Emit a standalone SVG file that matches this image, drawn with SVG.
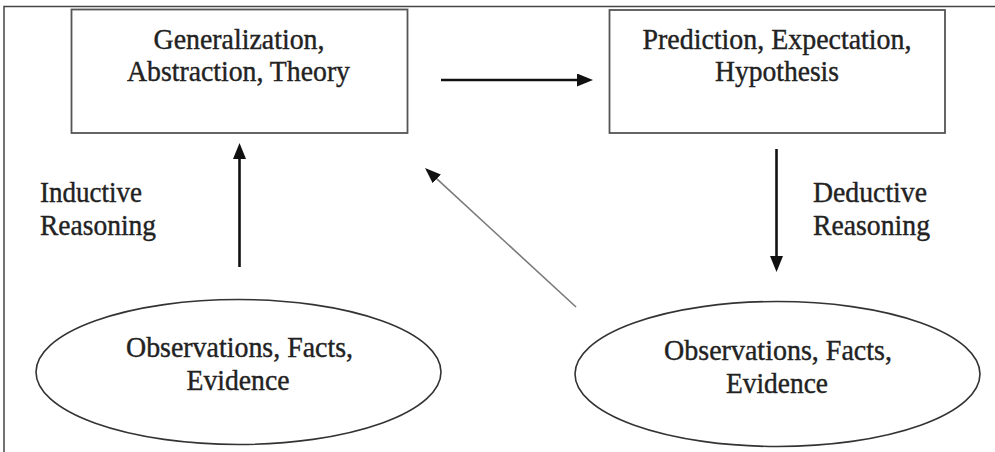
<svg xmlns="http://www.w3.org/2000/svg" width="995" height="452" viewBox="0 0 995 452">
<style>
.bg{fill:#ffffff}
.frame{fill:none;stroke:#444;stroke-width:1.5}
.box{fill:#ffffff;stroke:#555;stroke-width:1.8}
.ell{fill:#ffffff;stroke:#333;stroke-width:1.6}
text{font-family:"Liberation Serif","Times New Roman",serif;font-size:30px;fill:#222;stroke:#222;stroke-width:0.4}
.arr{fill:none;stroke:#111;stroke-width:2.6}
.thin{fill:none;stroke:#7a7a7a;stroke-width:1.6}
</style>
<defs>
<marker id="ah" markerUnits="userSpaceOnUse" markerWidth="17" markerHeight="14" refX="8" refY="6.5" orient="auto">
<path d="M0,0 L16,6.5 L0,13 z" fill="#111"/>
</marker>
<marker id="ah2" markerUnits="userSpaceOnUse" markerWidth="17" markerHeight="14" refX="8" refY="6.5" orient="auto">
<path d="M0,0.5 L16,6.5 L0,12.5 z" fill="#111"/>
</marker>
</defs>
<rect class="bg" x="0" y="0" width="995" height="452"/>
<path class="frame" d="M4,452 L4,6.5 L995,6.5"/>

<g id="connectors">
<line class="arr" x1="441" y1="80" x2="585" y2="80" marker-end="url(#ah)"/>
<line class="arr" x1="239.5" y1="267" x2="239.5" y2="151" marker-end="url(#ah)"/>
<line class="arr" x1="776.5" y1="149" x2="776.5" y2="264" marker-end="url(#ah)"/>
<line class="thin" x1="576" y1="307" x2="430.9" y2="173.4" marker-end="url(#ah2)"/>
</g>

<g id="generalization">
<rect class="box" x="71.5" y="9.5" width="336" height="123.5"/>
<text x="153.5" y="49" textLength="171" lengthAdjust="spacingAndGlyphs">Generalization,</text>
<text x="127" y="81" textLength="223" lengthAdjust="spacingAndGlyphs">Abstraction, Theory</text>
</g>

<g id="prediction">
<rect class="box" x="609.5" y="10" width="335.5" height="123"/>
<text x="642.5" y="49" textLength="269" lengthAdjust="spacingAndGlyphs">Prediction, Expectation,</text>
<text x="715" y="81" textLength="124" lengthAdjust="spacingAndGlyphs">Hypothesis</text>
</g>

<g id="inductive-label">
<text x="40" y="202" textLength="102" lengthAdjust="spacingAndGlyphs">Inductive</text>
<text x="40" y="235" textLength="116" lengthAdjust="spacingAndGlyphs">Reasoning</text>
</g>

<g id="deductive-label">
<text x="813" y="202" textLength="114" lengthAdjust="spacingAndGlyphs">Deductive</text>
<text x="813" y="235" textLength="117" lengthAdjust="spacingAndGlyphs">Reasoning</text>
</g>

<g id="observations-left">
<ellipse class="ell" cx="238.5" cy="372" rx="202.5" ry="72.5"/>
<text x="126" y="357" textLength="227" lengthAdjust="spacingAndGlyphs">Observations, Facts,</text>
<text x="186.5" y="390" textLength="103" lengthAdjust="spacingAndGlyphs">Evidence</text>
</g>

<g id="observations-right">
<ellipse class="ell" cx="777.5" cy="374" rx="202.5" ry="72.5"/>
<text x="664" y="360" textLength="228" lengthAdjust="spacingAndGlyphs">Observations, Facts,</text>
<text x="726" y="393" textLength="102" lengthAdjust="spacingAndGlyphs">Evidence</text>
</g>
</svg>
